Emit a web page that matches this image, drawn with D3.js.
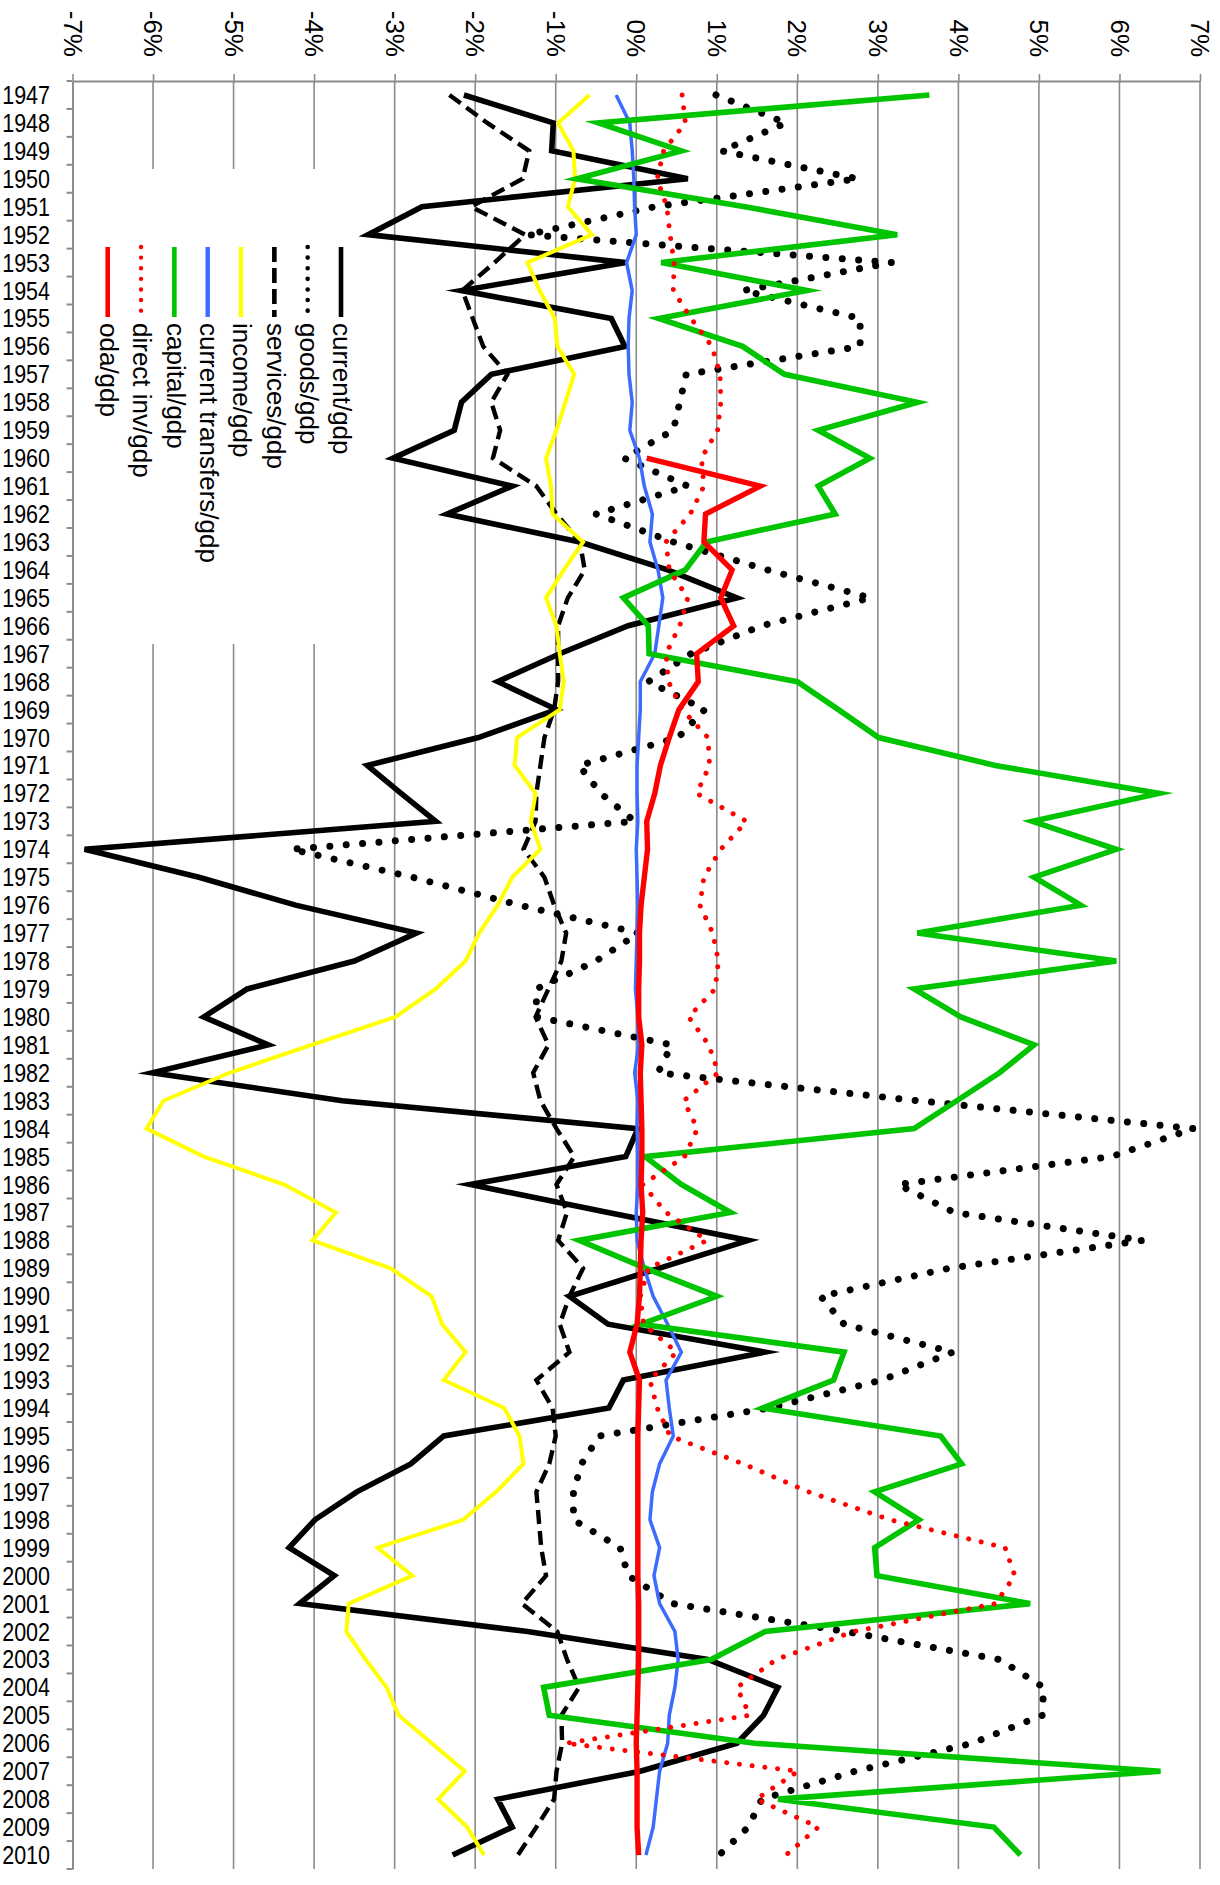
<!DOCTYPE html>
<html>
<head>
<meta charset="utf-8">
<script src="https://cdn.jsdelivr.net/npm/d3@7"></script>
<style>
  html, body { margin: 0; padding: 0; background: #fff; }
  svg { display: block; }
  text { font-family: "Liberation Sans", Arial, Helvetica, sans-serif; fill: #000; }
</style>
</head>
<body>
<svg id="chart" width="1220" height="1885"></svg>
<script>
// Balance-of-payments components as a share of GDP, 1947-2010 (percent)
const years = d3.range(1947, 2011);

const currentGdp = [
  -2.14, -1.03, -1.05, 0.64, -2.66, -3.33, -0.13, -2.17, -0.31, -0.14,
  -1.80, -2.17, -2.26, -3.02, -1.54, -2.35, -0.70, 0.39, 1.25, -0.10,
  -0.95, -1.72, -0.99, -1.96, -3.34, -2.92, -2.49, -6.85, -5.43, -4.23,
  -2.73, -3.50, -4.83, -5.37, -4.57, -6.01, -3.65, 0.02, -0.13, -2.06,
  -0.35, 1.39, 0.28, -0.83, -0.35, 1.60, -0.16, -0.34, -2.39, -2.80,
  -3.47, -3.99, -4.31, -3.75, -4.18, -1.35, 0.89, 1.76, 1.58, 1.25,
  0.05, -1.72, -1.54, -2.28
];

const goodsGdp = [
  0.99, 1.86, 1.06, 2.75, 0.23, -1.35, 3.17, 1.33, 2.78, 2.78,
  0.62, 0.54, 0.46, -0.15, 0.64, -0.50, 0.46, 1.63, 2.91, 1.56,
  0.68, 0.15, 0.85, 0.52, -0.71, -0.44, -0.02, -4.28, -2.78, -1.45,
  0.03, -0.50, -1.24, -1.24, 0.44, 0.27, 3.50, 6.92, 5.90, 3.25,
  3.95, 6.29, 3.88, 2.29, 2.58, 3.93, 3.05, 1.65, -0.46, -0.68,
  -0.78, -0.78, -0.20, -0.10, 0.45, 2.60, 4.51, 5.06, 5.04, 4.17,
  2.72, 1.56, 1.39, 1.03
];

const servicesGdp = [
  -2.32, -1.85, -1.33, -1.41, -2.05, -1.38, -1.76, -2.16, -2.03, -1.90,
  -1.60, -1.80, -1.69, -1.78, -1.24, -0.99, -0.70, -0.64, -0.85, -0.97,
  -0.97, -0.97, -1.02, -1.14, -1.19, -1.24, -1.25, -1.40, -1.14, -1.02,
  -0.87, -0.93, -1.09, -1.25, -1.09, -1.28, -1.19, -0.99, -0.77, -0.99,
  -0.86, -0.97, -0.66, -0.83, -0.95, -0.83, -1.24, -1.04, -1.00, -1.08,
  -1.24, -1.21, -1.18, -1.12, -1.42, -0.98, -0.86, -0.71, -0.93, -0.92,
  -0.99, -1.02, -1.24, -1.47
];

const incomeGdp = [
  -0.58, -0.97, -0.78, -0.76, -0.85, -0.55, -1.35, -1.20, -1.01, -0.98,
  -0.77, -0.88, -0.99, -1.12, -1.06, -1.04, -0.66, -0.90, -1.12, -0.99,
  -0.95, -0.90, -0.95, -1.48, -1.51, -1.25, -1.31, -1.19, -1.54, -1.72,
  -1.95, -2.12, -2.49, -2.99, -4.03, -5.05, -5.87, -6.08, -5.37, -4.37,
  -3.73, -4.02, -3.05, -2.54, -2.41, -2.12, -2.39, -1.64, -1.45, -1.40,
  -1.74, -2.15, -3.21, -2.78, -3.57, -3.60, -3.36, -3.10, -2.95, -2.54,
  -2.13, -2.46, -2.10, -1.89
];

const transfersGdp = [
  -0.25, -0.08, -0.05, -0.03, -0.02, 0.00, -0.12, -0.05, -0.09, -0.10,
  -0.09, -0.05, -0.08, 0.04, 0.10, 0.20, 0.17, 0.27, 0.33, 0.28,
  0.23, 0.05, 0.05, 0.03, 0.01, 0.01, 0.02, 0.00, 0.01, 0.02,
  0.01, 0.00, -0.01, 0.02, 0.03, -0.02, 0.02, 0.01, 0.02, 0.02,
  0.00, 0.01, 0.10, 0.21, 0.39, 0.56, 0.37, 0.41, 0.46, 0.29,
  0.20, 0.17, 0.29, 0.22, 0.29, 0.48, 0.52, 0.48, 0.41, 0.39,
  0.29, 0.25, 0.21, 0.12
];

const capitalGdp = [
  3.64, -0.47, 0.56, -0.74, 1.35, 3.24, 0.31, 2.12, 0.28, 1.32,
  1.84, 3.49, 2.26, 2.90, 2.26, 2.47, 0.87, 0.61, -0.16, 0.15,
  0.16, 2.00, 2.51, 3.01, 4.46, 6.49, 4.92, 5.96, 4.94, 5.52,
  3.49, 5.96, 3.45, 4.03, 4.94, 4.51, 3.98, 3.45, 0.11, 0.56,
  1.17, -0.71, 0.12, 1.00, 0.06, 2.58, 2.45, 1.57, 3.78, 4.04,
  2.96, 3.51, 2.96, 2.99, 4.89, 1.60, 0.93, -1.15, -1.08, 1.47,
  6.51, 1.76, 4.44, 4.77
];

const directInvGdp = [
  0.57, 0.61, 0.34, 0.26, 0.38, 0.42, 0.47, 0.46, 0.68, 0.94,
  1.04, 1.05, 1.01, 0.81, 0.84, 0.67, 0.37, 0.41, 0.64, 0.54,
  0.37, 0.40, 0.57, 0.89, 0.91, 0.75, 1.37, 1.05, 0.84, 0.79,
  0.95, 1.02, 0.98, 0.65, 0.90, 1.02, 0.59, 0.76, 0.60, 0.08,
  0.37, 0.88, 0.15, 0.05, 0.09, 0.50, 0.17, 0.26, 0.42, 1.33,
  2.14, 3.15, 4.58, 4.70, 4.46, 2.70, 1.74, 1.25, 1.41, -0.88,
  2.01, 1.49, 2.26, 1.86
];

// official development assistance is reported from 1960 on
const odaGdp = [
  null, null, null, null, null, null, null, null, null, null,
  null, null, null, 0.13, 1.54, 0.86, 0.84, 1.19, 1.05, 1.21,
  0.75, 0.77, 0.53, 0.41, 0.30, 0.23, 0.13, 0.14, 0.10, 0.06,
  0.04, 0.04, 0.03, 0.03, 0.07, 0.05, 0.06, 0.07, 0.07, 0.06,
  0.08, 0.06, 0.05, 0.04, 0.01, -0.08, 0.04, 0.03, 0.02, 0.02,
  0.02, 0.02, 0.02, 0.02, 0.03, 0.03, 0.03, 0.02, 0.01, 0.00,
  0.01, 0.01, 0.01, 0.03
];

const percentTicks = d3.range(-7, 8);

// series in legend order; later ones are painted on top
const seriesList = [
  { name: "current/gdp",           values: currentGdp },
  { name: "goods/gdp",             values: goodsGdp },
  { name: "services/gdp",          values: servicesGdp },
  { name: "income/gdp",            values: incomeGdp },
  { name: "current transfers/gdp", values: transfersGdp },
  { name: "capital/gdp",           values: capitalGdp },
  { name: "direct inv/gdp",        values: directInvGdp },
  { name: "oda/gdp",               values: odaGdp }
];

// stroke styles for the plot and for the legend swatches
const looks = {
  "current/gdp":           { color: "#000000", w: 5.6, dash: null,        cap: "butt",  lw: 4.6, ldash: null },
  "goods/gdp":             { color: "#000000", w: 7,   dash: "0.01 16.4", cap: "round", lw: 4.6, ldash: "0.01 10.6" },
  "services/gdp":          { color: "#000000", w: 4.4, dash: "14 7",      cap: "butt",  lw: 4.6, ldash: "15 6" },
  "income/gdp":            { color: "#ffff00", w: 4,   dash: null,        cap: "butt",  lw: 4.4, ldash: null },
  "current transfers/gdp": { color: "#3c6cff", w: 3.5, dash: null,        cap: "butt",  lw: 4.4, ldash: null },
  "capital/gdp":           { color: "#00c400", w: 5.6, dash: null,        cap: "butt",  lw: 4.6, ldash: null },
  "direct inv/gdp":        { color: "#ff0000", w: 5,   dash: "0.01 12.8", cap: "round", lw: 4.4, ldash: "0.01 10.6" },
  "oda/gdp":               { color: "#ff0000", w: 5.4, dash: null,        cap: "butt",  lw: 4.6, ldash: null }
};

const svg = d3.select("#chart");
const plotLeft = 72.5, plotRight = 1200, plotTop = 81, plotBottom = 1869;
const gridColor = "#8c8c8c";

const x = d3.scaleLinear().domain([-7, 7]).range([plotLeft, plotRight]);
const y = d3.scaleBand().domain(years).range([plotTop, plotBottom]).padding(0);
const yc = yr => y(yr) + y.bandwidth() / 2;

// vertical gridlines
svg.append("g")
  .selectAll("line")
  .data(percentTicks.filter(t => t > -7))
  .join("line")
  .attr("x1", d => x(d)).attr("x2", d => x(d))
  .attr("y1", plotTop).attr("y2", plotBottom)
  .attr("stroke", gridColor).attr("stroke-width", 1.6);

// percent axis along the top, labels turned a quarter clockwise
const topAxis = svg.append("g")
  .attr("transform", `translate(0,${plotTop})`)
  .call(d3.axisTop(x).tickValues(percentTicks).tickSize(7).tickSizeOuter(0)
    .tickFormat(d => `${d}%`));
topAxis.select(".domain").attr("stroke", gridColor).attr("stroke-width", 2);
topAxis.selectAll(".tick line").attr("stroke", gridColor).attr("stroke-width", 1.6);
topAxis.selectAll(".tick text")
  .attr("x", 0).attr("y", 0).attr("dy", "0.36em")
  .attr("text-anchor", "end")
  .attr("transform", "translate(0,-24) rotate(90)")
  .style("font-size", "26px")
  .style("font-family", "\"Liberation Sans\", Arial, sans-serif")
  .attr("fill", "#000");

// year axis down the left side, ticks sit between years
const yearScaleX = 0.86;
const leftAxis = svg.append("g")
  .attr("transform", `translate(${plotLeft},0)`)
  .call(d3.axisLeft(y).tickSize(0).tickSizeOuter(0));
leftAxis.select(".domain").attr("stroke", gridColor).attr("stroke-width", 2);
leftAxis.selectAll(".tick text")
  .attr("x", -22.5 / yearScaleX).attr("dy", "0.36em")
  .attr("transform", `scale(${yearScaleX},1)`)
  .attr("text-anchor", "end")
  .style("font-size", "25px")
  .style("font-family", "\"Liberation Sans\", Arial, sans-serif")
  .attr("fill", "#000");

const bandEdges = years.map(yr => y(yr)).concat([plotBottom]);
svg.append("g")
  .selectAll("line")
  .data(bandEdges)
  .join("line")
  .attr("x1", plotLeft - 6).attr("x2", plotLeft)
  .attr("y1", d => d).attr("y2", d => d)
  .attr("stroke", gridColor).attr("stroke-width", 2);

// legend panel (white box over the grid)
const legend = svg.append("g");
legend.append("rect")
  .attr("x", plotLeft + 4).attr("y", 169)
  .attr("width", 286).attr("height", 475)
  .attr("fill", "#fff");

const legendItems = seriesList.slice().reverse(); // oda on the left, current on the right
const legendX0 = 107.7, legendStep = 33.33;
const swatchTop = 247, swatchBottom = 317;

legendItems.forEach((s, i) => {
  const lx = legendX0 + i * legendStep;
  const lk = looks[s.name];
  legend.append("line")
    .attr("x1", lx).attr("x2", lx)
    .attr("y1", swatchTop).attr("y2", swatchBottom)
    .attr("stroke", lk.color)
    .attr("stroke-width", lk.lw)
    .attr("stroke-dasharray", lk.ldash)
    .attr("stroke-linecap", lk.ldash && lk.cap === "round" ? "round" : "butt");
  legend.append("text")
    .attr("transform", `translate(${lx},${swatchBottom + 6}) rotate(90)`)
    .attr("dy", "0.3em")
    .attr("text-anchor", "start")
    .style("font-size", "26px")
    .text(s.name);
});

// data lines
const line = d3.line()
  .defined(d => d.v !== null)
  .x(d => x(d.v))
  .y(d => yc(d.year));

svg.append("g")
  .attr("fill", "none")
  .selectAll("path")
  .data(seriesList)
  .join("path")
  .attr("d", s => line(years.map((yr, i) => ({ year: yr, v: s.values[i] }))))
  .attr("stroke", s => looks[s.name].color)
  .attr("stroke-width", s => looks[s.name].w)
  .attr("stroke-dasharray", s => looks[s.name].dash)
  .attr("stroke-linecap", s => looks[s.name].cap)
  .attr("stroke-linejoin", "miter")
  .attr("stroke-miterlimit", 6);
</script>
</body>
</html>
